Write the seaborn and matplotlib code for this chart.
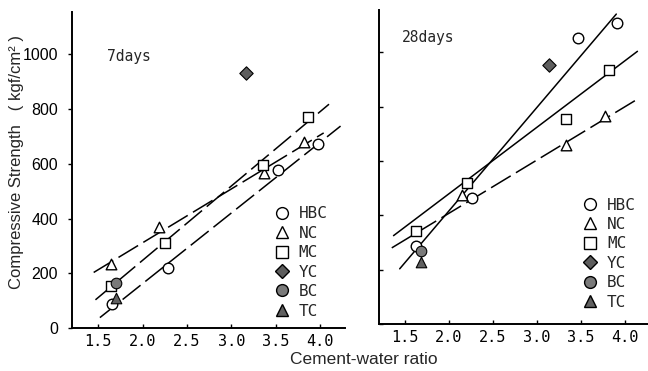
import numpy as np
import pandas as pd
import matplotlib
matplotlib.use("Agg")
import matplotlib.pyplot as plt
import seaborn as sns
from matplotlib.lines import Line2D

sns.set_theme(style="ticks")
plt.rcParams['font.family'] = ['Liberation Sans', 'DejaVu Sans']

# ---- data: 7 days ----
d7_hbc_x = [1.66, 2.29, 3.52, 3.98]
d7_hbc_y = [87, 218, 576, 672]
d7_nc_x = [1.65, 2.19, 3.37, 3.82]
d7_nc_y = [234, 368, 566, 680]
d7_mc_x = [1.64, 2.25, 3.36, 3.86]
d7_mc_y = [154, 309, 597, 772]
d7_yc_x = [3.17]
d7_yc_y = [931]
d7_bc_x = [1.70]
d7_bc_y = [164]
d7_tc_x = [1.70]
d7_tc_y = [108]
# fitted lines (end points)
d7_line_hbc_x = [1.52, 4.23]
d7_line_hbc_y = [38, 738]
d7_line_nc_x = [1.45, 4.04]
d7_line_nc_y = [203, 713]
d7_line_mc_x = [1.47, 4.10]
d7_line_mc_y = [103, 818]

# ---- data: 28 days ----
d28_hbc_x = [1.62, 2.26, 3.47, 3.91]
d28_hbc_y = [288, 462, 1051, 1107]
d28_nc_x = [2.15, 3.33, 3.77]
d28_nc_y = [474, 659, 766]
d28_mc_x = [1.62, 2.20, 3.33, 3.82]
d28_mc_y = [341, 519, 753, 935]
d28_yc_x = [3.13]
d28_yc_y = [951]
d28_bc_x = [1.68]
d28_bc_y = [268]
d28_tc_x = [1.68]
d28_tc_y = [227]
d28_line_hbc_x = [1.44, 3.90]
d28_line_hbc_y = [203, 1140]
d28_line_nc_x = [1.35, 4.14]
d28_line_nc_y = [280, 827]
d28_line_mc_x = [1.37, 4.14]
d28_line_mc_y = [325, 1003]

x_ticks = [1.5, 2.0, 2.5, 3.0, 3.5, 4.0]
x_tick_labels = ["1.5", "2.0", "2.5", "3.0", "3.5", "4.0"]
y_ticks = [0, 200, 400, 600, 800, 1000]
y_tick_labels = ["0", "200", "400", "600", "800", "1000"]
legend_labels = ["HBC", "NC", "MC", "YC", "BC", "TC"]

W, H = 648, 371
fig = plt.figure(figsize=(W / 100, H / 100), dpi=100)
fig.patch.set_facecolor("white")

def px_axes(l, t, r, b):
    return fig.add_axes([l / W, 1 - b / H, (r - l) / W, (b - t) / H])

ax1 = px_axes(72, 12, 345, 328)
ax2 = px_axes(379, 10, 648, 324)

MS = 58
open_kw = dict(facecolor="white", edgecolor="black", linewidth=1.0, zorder=4)
fill_kw = dict(edgecolor="black", linewidth=0.8, zorder=4)
DASH = (0, (15, 4))

styles = {
    "HBC": ("o", "white"),
    "NC": ("^", "white"),
    "MC": ("s", "white"),
    "YC": ("D", "#5e5e5e"),
    "BC": ("o", "#7a7a7a"),
    "TC": ("^", "#606060"),
}

def draw_line(ax, x, y, ls):
    sns.lineplot(x=x, y=y, ax=ax, color="black", linewidth=1.1, sort=False,
                 estimator=None, legend=False)
    ax.lines[-1].set_linestyle(ls)
    ax.lines[-1].set_zorder(2)

def draw_points(ax, x, y, key):
    m, c = styles[key]
    if c == "white":
        sns.scatterplot(x=x, y=y, ax=ax, marker=m, s=MS, legend=False, **open_kw)
    else:
        sns.scatterplot(x=x, y=y, ax=ax, marker=m, s=MS * (0.8 if m == "D" else 1.0),
                        color=c, legend=False, **fill_kw)

# panel 1
draw_line(ax1, d7_line_hbc_x, d7_line_hbc_y, DASH)
draw_line(ax1, d7_line_nc_x, d7_line_nc_y, DASH)
draw_line(ax1, d7_line_mc_x, d7_line_mc_y, DASH)
draw_points(ax1, d7_hbc_x, d7_hbc_y, "HBC")
draw_points(ax1, d7_nc_x, d7_nc_y, "NC")
draw_points(ax1, d7_mc_x, d7_mc_y, "MC")
draw_points(ax1, d7_yc_x, d7_yc_y, "YC")
draw_points(ax1, d7_bc_x, d7_bc_y, "BC")
draw_points(ax1, d7_tc_x, d7_tc_y, "TC")

# panel 2
draw_line(ax2, d28_line_hbc_x, d28_line_hbc_y, "-")
draw_line(ax2, d28_line_nc_x, d28_line_nc_y, DASH)
draw_line(ax2, d28_line_mc_x, d28_line_mc_y, "-")
draw_points(ax2, d28_hbc_x, d28_hbc_y, "HBC")
draw_points(ax2, d28_nc_x, d28_nc_y, "NC")
draw_points(ax2, d28_mc_x, d28_mc_y, "MC")
draw_points(ax2, d28_yc_x, d28_yc_y, "YC")
draw_points(ax2, d28_bc_x, d28_bc_y, "BC")
draw_points(ax2, d28_tc_x, d28_tc_y, "TC")

mono = ['DejaVu Sans Mono']
narrow = ['Liberation Sans Narrow', 'Liberation Sans']

for ax, xr in ((ax1, (1.206, 4.28)), (ax2, (1.205, 4.26))):
    ax.set_xlim(*xr)
    ax.set_ylim(0, 1155)
    ax.set_facecolor("white")
    ax.set_xlabel("")
    ax.set_ylabel("")
    for s in ("top", "right"):
        ax.spines[s].set_visible(False)
    for s in ("left", "bottom"):
        ax.spines[s].set_linewidth(1.4)
        ax.spines[s].set_color("black")
    ax.set_xticks(x_ticks)
    ax.set_xticklabels(x_tick_labels, fontfamily=mono, fontsize=11)
    ax.tick_params(axis="both", direction="in", length=3, width=1, colors="black")
    ax.tick_params(axis="x", pad=4)
    ax.set_yticks(y_ticks)

ax1.set_yticklabels(y_tick_labels, fontfamily=narrow, fontsize=11.5)
ax1.tick_params(axis="y", pad=7, direction="out", length=3)
ax2.set_yticklabels([])

ax1.text(0.128, 0.86, "7days", transform=ax1.transAxes, fontfamily=mono,
         fontsize=10.5, va="center", ha="left")
ax2.text(0.085, 0.914, "28days", transform=ax2.transAxes, fontfamily=mono,
         fontsize=10.5, va="center", ha="left")

def make_handles():
    hs = []
    for k in legend_labels:
        m, c = styles[k]
        hs.append(Line2D([], [], linestyle="none", marker=m,
                         markersize=8.5 if m != "D" else 7,
                         markerfacecolor=c, markeredgecolor="black",
                         markeredgewidth=1.0))
    return hs

for ax, anchor in ((ax1, (0.935, 0.03)), (ax2, (0.955, 0.045))):
    leg = ax.legend(make_handles(), legend_labels, loc="lower right",
                    bbox_to_anchor=anchor, frameon=False,
                    prop={"family": mono, "size": 11.5},
                    handlelength=1.0, handletextpad=0.55, labelspacing=0.28,
                    borderpad=0.0, borderaxespad=0.0)

fig.text(17 / W, 1 - 162 / H, "Compressive Strength   ( kgf/cm\u00b2 )",
         rotation=90, ha="center", va="center", fontsize=12)
fig.text(364 / W, 1 - 360 / H, "Cement-water ratio", ha="center", va="center",
         fontsize=12.5)

fig.savefig("out.png", dpi=100, facecolor="white")
